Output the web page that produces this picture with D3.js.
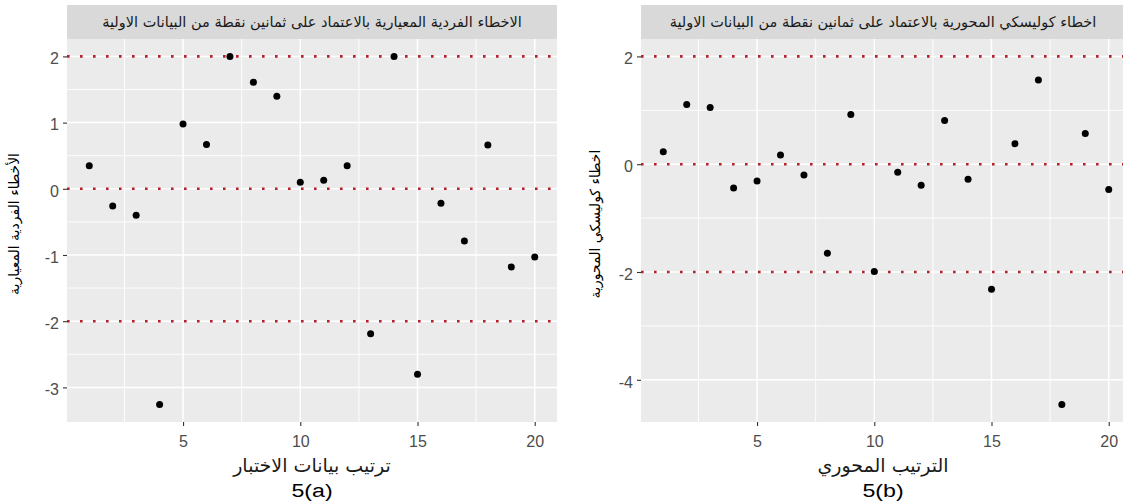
<!DOCTYPE html>
<html>
<head>
<meta charset="utf-8">
<script src="https://cdn.jsdelivr.net/npm/d3@7"></script>
<style>
body { margin: 0; background: #fff; }
svg { display: block; }
</style>
</head>
<body>
<svg id="chart" width="1123" height="504"></svg>
<script>
// data
var order = [1,2,3,4,5,6,7,8,9,10,11,12,13,14,15,16,17,18,19,20];
var stdErrors = [0.35,-0.26,-0.40,-3.26,0.98,0.67,2.00,1.61,1.40,0.10,0.13,0.35,-2.19,2.00,-2.80,-0.22,-0.79,0.66,-1.18,-1.03];
var choleskyErrors = [0.23,1.11,1.05,-0.44,-0.31,0.17,-0.20,-1.65,0.92,-1.99,-0.15,-0.39,0.81,-0.28,-2.32,0.38,1.56,-4.46,0.57,-0.47];
var refLines = [-2, 0, 2];
var xTicks = [5, 10, 15, 20];
var yTicksA = [-3, -2, -1, 0, 1, 2];
var yTicksB = [-4, -2, 0, 2];

var panels = [
    {
        left: 67, right: 557,
        values: stdErrors, yTicks: yTicksA,
        title: 'الاخطاء الفردية المعيارية بالاعتماد على ثمانين نقطة من البيانات الاولية',
        ylab: 'الأخطاء الفردية المعيارية',
        xlab: 'ترتيب بيانات الاختبار',
        tag: '5(a)', ylabX: 14, midX: 312
    },
    {
        left: 641, right: 1131,
        values: choleskyErrors, yTicks: yTicksB,
        title: 'اخطاء كوليسكي المحورية بالاعتماد على ثمانين نقطة من البيانات الاولية',
        ylab: 'اخطاء كوليسكي المحورية',
        xlab: 'الترتيب المحوري',
        tag: '5(b)', ylabX: 595, midX: 883
    }
];

var TOP = 39, BOTTOM = 422;
var arFont = '"DejaVu Sans", sans-serif';
var numFont = '"Liberation Sans", Arial, sans-serif';

var svg = d3.select('#chart');

// help function: ggplot style 5% expansion
function expand(lo, hi){
    var pad = (hi - lo) * 0.05;
    return [lo - pad, hi + pad];
}

panels.forEach(function(p){
    var g = svg.append('g');
    var x = d3.scaleLinear().domain(expand(1, 20)).range([p.left, p.right]);
    var yExt = d3.extent(p.values.concat(refLines));
    var y = d3.scaleLinear().domain(expand(yExt[0], yExt[1])).range([BOTTOM, TOP]);

    // strip
    g.append('rect')
        .attr('x', p.left).attr('y', 5)
        .attr('width', p.right - p.left).attr('height', TOP - 5)
        .attr('fill', '#d9d9d9');
    g.append('text')
        .attr('x', p.midX).attr('y', 27)
        .attr('text-anchor', 'middle')
        .attr('direction', 'rtl')
        .style('font-family', arFont).style('font-size', '14.5px')
        .attr('fill', '#1a1a1a')
        .text(p.title);

    // panel background
    g.append('rect')
        .attr('x', p.left).attr('y', TOP)
        .attr('width', p.right - p.left).attr('height', BOTTOM - TOP)
        .attr('fill', '#ebebeb');

    // minor grid
    var xMinor = xTicks.map(function(t){ return t - 2.5; });
    var step = p.yTicks[1] - p.yTicks[0];
    var yMinor = p.yTicks.map(function(t){ return t + step / 2; })
        .filter(function(v){ return y(v) > TOP && y(v) < BOTTOM; });
    g.selectAll('.xminor').data(xMinor).enter().append('line')
        .attr('x1', x).attr('x2', x).attr('y1', TOP).attr('y2', BOTTOM)
        .attr('stroke', '#fff').attr('stroke-width', 0.9);
    g.selectAll('.yminor').data(yMinor).enter().append('line')
        .attr('x1', p.left).attr('x2', p.right).attr('y1', y).attr('y2', y)
        .attr('stroke', '#fff').attr('stroke-width', 0.9);

    // major grid
    g.selectAll('.xmajor').data(xTicks).enter().append('line')
        .attr('x1', x).attr('x2', x).attr('y1', TOP).attr('y2', BOTTOM)
        .attr('stroke', '#fff').attr('stroke-width', 1.5);
    g.selectAll('.ymajor').data(p.yTicks).enter().append('line')
        .attr('x1', p.left).attr('x2', p.right).attr('y1', y).attr('y2', y)
        .attr('stroke', '#fff').attr('stroke-width', 1.5);

    // reference lines
    g.selectAll('.ref').data(refLines).enter().append('line')
        .attr('x1', p.left).attr('x2', p.right).attr('y1', y).attr('y2', y)
        .attr('stroke', '#b3202a').attr('stroke-width', 2.6)
        .attr('stroke-dasharray', '2.6,10.4');

    // points
    g.selectAll('circle').data(order).enter().append('circle')
        .attr('cx', function(d){ return x(d); })
        .attr('cy', function(d, i){ return y(p.values[i]); })
        .attr('r', 3.5)
        .attr('fill', '#000');

    // axes
    var xAxis = g.append('g').attr('transform', 'translate(0,' + BOTTOM + ')')
        .call(d3.axisBottom(x).tickValues(xTicks).tickSize(4).tickPadding(10));
    var yAxis = g.append('g').attr('transform', 'translate(' + p.left + ',0)')
        .call(d3.axisLeft(y).tickValues(p.yTicks).tickSize(4).tickPadding(4)
            .tickFormat(function(d){ return d < 0 ? '-' + Math.abs(d) : d; }));
    [xAxis, yAxis].forEach(function(a){
        a.select('.domain').remove();
        a.selectAll('line').attr('stroke', '#333').attr('stroke-width', 1.1);
        a.selectAll('text').attr('fill', '#4d4d4d')
            .style('font-family', numFont).style('font-size', '16px');
    });
    yAxis.selectAll('text').attr('dy', '0.45em');

    // axis titles
    g.append('text')
        .attr('x', p.midX)
        .attr('y', 472)
        .attr('text-anchor', 'middle').attr('direction', 'rtl')
        .style('font-family', arFont).style('font-size', '19px')
        .attr('fill', '#1a1a1a')
        .text(p.xlab);
    g.append('text')
        .attr('transform', 'translate(' + p.midX + ',497) scale(1.22,1)')
        .attr('text-anchor', 'middle')
        .style('font-family', numFont).style('font-size', '19px')
        .attr('fill', '#000')
        .text(p.tag);
    g.append('text')
        .attr('transform', 'translate(' + p.ylabX + ',224) rotate(-90)')
        .attr('text-anchor', 'middle').attr('direction', 'rtl')
        .attr('dy', '0.35em')
        .style('font-family', arFont).style('font-size', '14px')
        .attr('fill', '#000')
        .text(p.ylab);
});
</script>
</body>
</html>
